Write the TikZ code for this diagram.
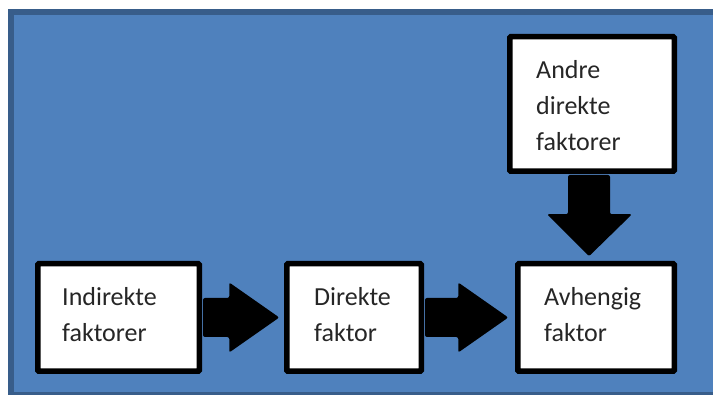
\documentclass[tikz,border=0pt]{standalone}
\usepackage{fontspec}
\setmainfont{Carlito}
\usetikzlibrary{calc}
\definecolor{bgfill}{HTML}{4F81BD}
\definecolor{bgline}{HTML}{385D8A}
\tikzset{
  box/.style={draw=black, fill=white, line width=5.5pt, inner sep=0pt, rounded corners=1pt},
  lbl/.style={anchor=base west, inner sep=0pt, font=\fontsize{26}{36}\selectfont, align=left, text=black!85},
  bigarrow/.style={fill=black, rounded corners=2pt}
}
\begin{document}
\begin{tikzpicture}[x=1pt,y=-1pt]
\useasboundingbox (0,0) rectangle (713,395);
\clip (0,0) rectangle (713,395);
\fill[white] (0,0) rectangle (713,395);
\draw[fill=bgfill, draw=bgline, line width=6pt] (11,12) rectangle (730,395.5);
\node[box, minimum width=161.5pt, minimum height=107.5pt] (b1) at (118.5,317.5) {};
\node[box, minimum width=134.5pt, minimum height=107.5pt] (b2) at (354,317.5) {};
\node[box, minimum width=156.5pt, minimum height=107.5pt] (b3) at (596,317.5) {};
\node[box, minimum width=164.5pt, minimum height=134.5pt] (b4) at (592,104) {};
\node[lbl] (t1) at (62,342) {Indirekte\\faktorer};
\node[lbl] (t2) at (314,342) {Direkte\\faktor};
\node[lbl] (t3) at (544,342) {Avhengig\\faktor};
\node[lbl] (t4) at (536,151) {Andre\\direkte\\faktorer};
% arrow b1 -> b2
\fill[bigarrow] ($(b1.east)+(1,-19.5)$) -- ($(b2.west)+(-54.75,-19.5)$) -- ($(b2.west)+(-54.75,-35)$)
  -- ($(b2.west)+(-4.75,0)$) -- ($(b2.west)+(-54.75,35)$) -- ($(b2.west)+(-54.75,19.5)$)
  -- ($(b1.east)+(1,19.5)$) -- cycle;
% arrow b2 -> b3
\fill[bigarrow] ($(b2.east)+(1,-19.5)$) -- ($(b3.west)+(-56.75,-19.5)$) -- ($(b3.west)+(-56.75,-35)$)
  -- ($(b3.west)+(-6.75,0)$) -- ($(b3.west)+(-56.75,35)$) -- ($(b3.west)+(-56.75,19.5)$)
  -- ($(b2.east)+(1,19.5)$) -- cycle;
% arrow b4 -> b3
\coordinate (dtip) at ($(b3.north)+(-7,-4.75)$);
\fill[bigarrow] ($(b4.south)+(-24,1)$) -- ($(b4.south)+(18,1)$) -- ($(dtip)+(21,-42)$) -- ($(dtip)+(43,-42)$)
  -- (dtip) -- ($(dtip)+(-42,-42)$) -- ($(dtip)+(-21,-42)$) -- cycle;
\end{tikzpicture}
\end{document}
